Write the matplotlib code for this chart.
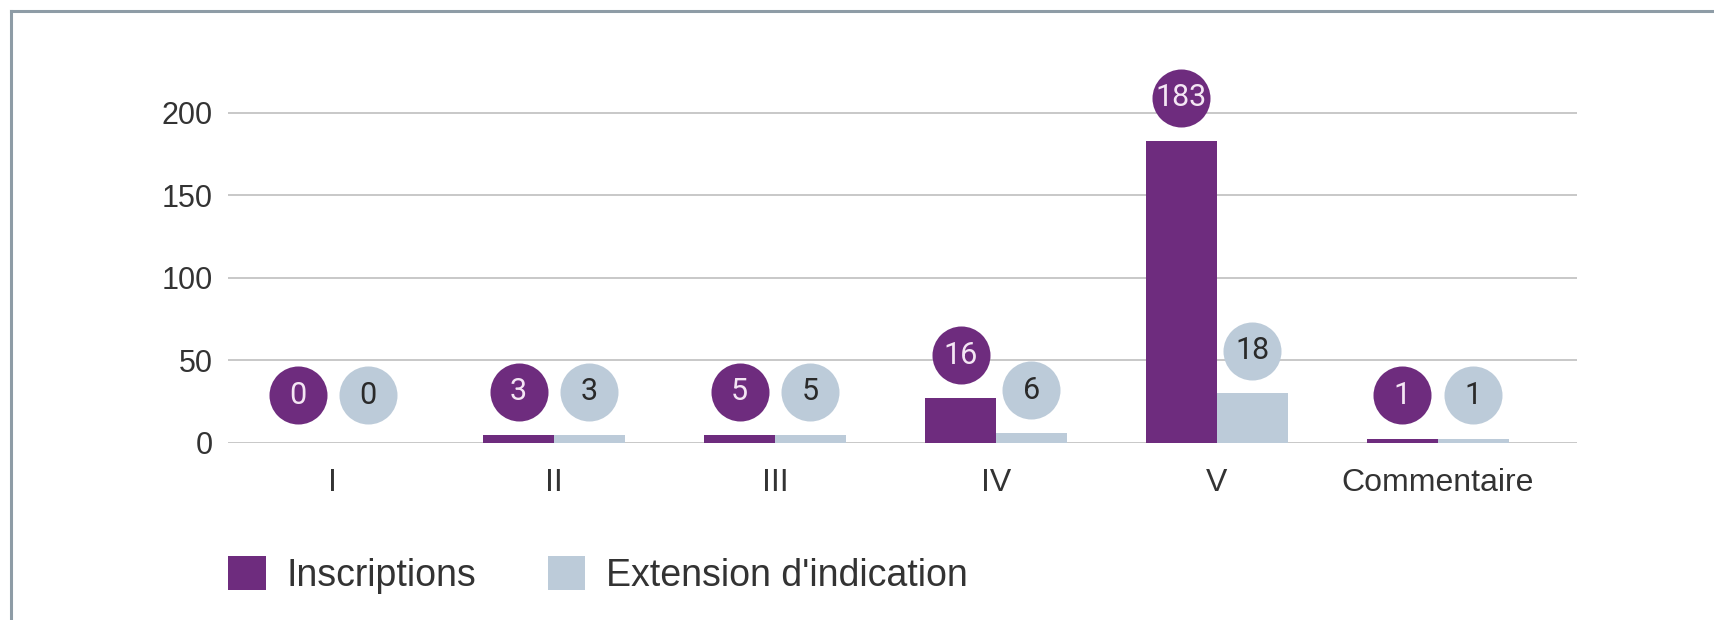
import matplotlib
matplotlib.use("Agg")
import matplotlib.pyplot as plt
from matplotlib.patches import Patch
from matplotlib.lines import Line2D
import numpy as np

# data
categories = ["I", "II", "III", "IV", "V", "Commentaire"]
inscriptions_bars = [0, 5, 5, 27, 183, 2.5]
extension_bars = [0, 5, 5, 6, 30, 2.5]
inscriptions_labels = ["0", "3", "5", "16", "183", "1"]
extension_labels = ["0", "3", "5", "6", "18", "1"]
yticks = [0, 50, 100, 150, 200]
series_names = ["Inscriptions", "Extension d'indication"]

PURPLE = "#6E2C7E"
LIGHT = "#BCCBD9"
TEXT = "#333333"
GRID = "#C4C4C4"
BORDER = "#8E9CA6"

plt.rcParams['font.family'] = ['Liberation Sans', 'DejaVu Sans']

fig = plt.figure(figsize=(17.14, 6.2), dpi=100)
ax = fig.add_axes([0.1330, 0.2855, 0.7871, 0.6258])

x = np.arange(len(categories))
w = 0.32

ax.bar(x - w / 2, inscriptions_bars, width=w, color=PURPLE, zorder=3)
ax.bar(x + w / 2, extension_bars, width=w, color=LIGHT, zorder=3)

# value bubbles above each bar
for xs, hs, labs, fc, tc in [
    (x - w / 2, inscriptions_bars, inscriptions_labels, PURPLE, "#F4E6F4"),
    (x + w / 2, extension_bars, extension_labels, LIGHT, "#2A2A2A"),
]:
    ys = [max(h + 26, 29) for h in hs]
    ax.scatter(xs, ys, s=1745, color=fc, zorder=4, clip_on=False, linewidths=0)
    for xi, yi, lab in zip(xs, ys, labs):
        ax.text(xi, yi, lab, ha="center", va="center", fontsize=22,
                color=tc, zorder=5, family=['Roboto', 'DejaVu Sans'])

ax.set_xlim(-0.475, 5.63)
ax.set_ylim(0, 235)
ax.set_yticks(yticks)
ax.set_xticks(x)
ax.set_xticklabels(categories)
ax.yaxis.grid(True, color=GRID, linewidth=1.3, zorder=0)
ax.tick_params(axis="y", length=0, pad=11, labelsize=22, labelcolor=TEXT)
ax.tick_params(axis="x", length=0, pad=18, labelsize=23, labelcolor=TEXT)
for s in ax.spines.values():
    s.set_visible(False)

handles = [Patch(facecolor=PURPLE, edgecolor="none"),
           Patch(facecolor=LIGHT, edgecolor="none")]
fig.legend(handles, series_names, loc="center left",
           bbox_to_anchor=(228 / 1714, 1 - 575 / 620), frameon=False,
           ncol=2, fontsize=27, handlelength=1.0, handleheight=1.0,
           handletextpad=0.56, columnspacing=1.9, borderpad=0,
           borderaxespad=0, labelcolor=TEXT)

# outer frame: top and left edges only
fig.add_artist(Line2D([11 / 1714, 11 / 1714], [0, 1 - 11 / 620],
                      color=BORDER, linewidth=2.2))
fig.add_artist(Line2D([11 / 1714, 1], [1 - 11 / 620, 1 - 11 / 620],
                      color=BORDER, linewidth=2.2))

fig.savefig("out.png", dpi=100)
